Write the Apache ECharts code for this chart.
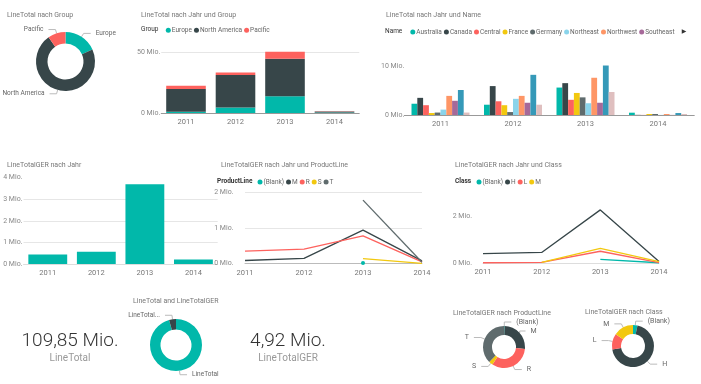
<!DOCTYPE html>
<html><head><meta charset="utf-8">
<script src="https://cdn.jsdelivr.net/npm/echarts@6/dist/echarts.min.js"></script>
<style>html,body{margin:0;padding:0;background:#fff}#c{width:701px;height:384px}</style>
</head><body><div id="c"></div>
<script>
// ---------- data ----------
const years = ['2011', '2012', '2013', '2014'];

const groupNames = ['Europe', 'North America', 'Pacific'];
const groupEurope = [1.0, 4.6, 13.8, 0.4];
const groupNorthAmerica = [19.0, 27.0, 31.2, 0.8];
const groupPacific = [2.5, 1.9, 5.8, 0.3];

const regionNames = ['Australia', 'Canada', 'Central', 'France', 'Germany', 'Northeast', 'Northwest', 'Southeast', 'Southwest', 'United Kingdom'];
const region2011 = [2.3, 3.5, 2.0, 0.4, 0.5, 1.1, 3.9, 2.9, 5.1, 0.5];
const region2012 = [2.1, 5.9, 2.8, 2.0, 0.6, 3.3, 3.9, 2.5, 8.2, 2.1];
const region2013 = [5.6, 6.5, 3.1, 4.5, 3.6, 2.4, 7.6, 2.5, 10.1, 4.7];
const region2014 = [0.47, 0.03, 0.02, 0.2, 0.2, 0.02, 0.2, 0.02, 0.4, 0.2];

const gerByYear = [0.44, 0.57, 3.70, 0.21];

const productLines = ['(Blank)', 'M', 'R', 'S', 'T'];
const plBlank = [null, null, 0.02, null];
const plM = [0.09, 0.15, 0.94, 0.08];
const plR = [0.35, 0.41, 0.78, 0.05];
const plS = [null, null, 0.14, 0.01];
const plT = [null, null, 1.78, 0.04];

const classes = ['(Blank)', 'H', 'L', 'M'];
const clBlank = [null, null, 0.15, 0.01];
const clH = [0.40, 0.45, 2.26, 0.06];
const clL = [0.01, 0.03, 0.50, 0.02];
const clM = [null, 0.03, 0.62, 0.06];

const kpiNames = ['LineTotal', 'LineTotalGER'];
const kpiValues = [109.85, 4.92];
const kpiLabels = ['109,85 Mio.', '4,92 Mio.'];

// ---------- styling ----------
const PAL = ['#01B8AA', '#374649', '#FD625E', '#F2C80F', '#5F6B6D', '#8AD4EB', '#FE9666', '#A66999', '#3599B8', '#DFBFBF'];
const FONT = 'Roboto';
const sum = a => a.reduce((s, v) => s + (v || 0), 0);
const fmtMio = v => v + ' Mio.';

function titleText(text, x, y) {
  return { type: 'text', x: x, y: y, style: { text: text, fill: '#777', font: '7px ' + FONT, verticalAlign: 'middle', align: 'left' } };
}
function headText(text, x, y, bold) {
  return { type: 'text', x: x, y: y, style: { text: text, fill: '#333', font: (bold ? 'bold ' : '') + '6.5px ' + FONT, verticalAlign: 'middle', align: 'left' } };
}
function catAxis(gi, boundary, lineColor) {
  return {
    type: 'category', gridIndex: gi, data: years, boundaryGap: boundary,
    axisTick: { show: false },
    axisLine: { show: true, lineStyle: { color: lineColor, width: 1 } },
    axisLabel: { fontSize: 7.5, color: '#777', margin: 5, fontFamily: FONT, interval: 0 },
    splitLine: { show: false }
  };
}
function valAxis(gi, max, interval, margin, split) {
  return {
    type: 'value', gridIndex: gi, min: 0, max: max, interval: interval,
    axisLine: { show: false }, axisTick: { show: false },
    axisLabel: { fontSize: 7, color: '#888', margin: margin, formatter: fmtMio, fontFamily: FONT, showMaxLabel: true },
    splitLine: split ? { show: true, showMinLine: false, showMaxLine: split === 'all', lineStyle: { color: '#e6e6e6', width: 1 } } : { show: false }
  };
}
const legendBase = {
  icon: 'circle', itemWidth: 5, itemHeight: 5, itemGap: 2, padding: 0, orient: 'horizontal',
  textStyle: { fontSize: 6.5, color: '#666', fontFamily: FONT, padding: [0, 0, 0, -4] },
  selectedMode: false
};
const pieLabel = { show: true, position: 'outside', fontSize: 6.5, color: '#666', fontFamily: FONT, overflow: 'none' };
const pieLine = { show: true, length: 4, length2: 7, lineStyle: { color: '#bbb', width: 1 } };

// ---------- series ----------
const series = [];
const groupArrays = [groupEurope, groupNorthAmerica, groupPacific];
const groupColors = [PAL[0], PAL[1], PAL[2]];
groupNames.forEach((n, i) => series.push({
  type: 'bar', name: n, xAxisIndex: 0, yAxisIndex: 0, stack: 'g', data: groupArrays[i],
  barCategoryGap: '20%', itemStyle: { color: groupColors[i] }, clip: false
}));

regionNames.forEach((n, i) => series.push({
  type: 'bar', name: n, xAxisIndex: 1, yAxisIndex: 1,
  data: [region2011[i], region2012[i], region2013[i], region2014[i]],
  barGap: '0%', barCategoryGap: '20%', itemStyle: { color: PAL[i] }, clip: false
}));

series.push({ type: 'bar', name: 'LineTotalGER', xAxisIndex: 2, yAxisIndex: 2, data: gerByYear, barCategoryGap: '20%', itemStyle: { color: PAL[0] }, clip: false });

const plArrays = [plBlank, plM, plR, plS, plT];
const plColors = [PAL[0], PAL[1], PAL[2], PAL[3], PAL[4]];
productLines.forEach((n, i) => series.push({
  type: 'line', name: n, xAxisIndex: 3, yAxisIndex: 3, data: plArrays[i],
  showSymbol: i === 0, symbol: 'circle', symbolSize: 4, clip: false,
  lineStyle: { color: plColors[i], width: 1.3 }, itemStyle: { color: plColors[i] }
}));

const clArrays = [clBlank, clH, clL, clM];
const clColors = [PAL[0], PAL[1], PAL[2], PAL[3]];
classes.forEach((n, i) => series.push({
  type: 'line', name: n, xAxisIndex: 4, yAxisIndex: 4, data: clArrays[i],
  showSymbol: false, clip: false,
  lineStyle: { color: clColors[i], width: 1.3 }, itemStyle: { color: clColors[i] }
}));

series.push({
  type: 'pie', center: [65.5, 61.5], radius: [18, 29.5], label: pieLabel, labelLine: pieLine,
  data: groupNames.map((n, i) => ({ name: n, value: sum(groupArrays[i]), itemStyle: { color: groupColors[i] } }))
});
series.push({
  type: 'pie', center: [176, 345], radius: [15.5, 26], label: pieLabel, labelLine: pieLine,
  data: kpiNames.map((n, i) => ({ name: n, value: kpiValues[i], itemStyle: { color: PAL[i] },
    label: i === 1 ? { width: 36, overflow: 'truncate', ellipsis: '...' } : {} }))
});
series.push({
  type: 'pie', center: [504, 347], radius: [12, 21], label: Object.assign({}, pieLabel, { fontSize: 7 }), labelLine: pieLine,
  data: productLines.map((n, i) => ({ name: n, value: sum(plArrays[i]), itemStyle: { color: plColors[i] } }))
});
series.push({
  type: 'pie', center: [633, 346], radius: [12, 21], label: Object.assign({}, pieLabel, { fontSize: 7 }), labelLine: pieLine,
  data: classes.map((n, i) => ({ name: n, value: sum(clArrays[i]), itemStyle: { color: clColors[i] } }))
});

const option = {
  backgroundColor: '#fff',
  animation: false,
  textStyle: { fontFamily: FONT },
  grid: [
    { left: 161.25, top: 52.7, width: 198, height: 60.3, containLabel: false, outerBoundsMode: 'none' },
    { left: 404.25, top: 66, width: 290, height: 49, containLabel: false, outerBoundsMode: 'none' },
    { left: 23.5, top: 177.7, width: 194.2, height: 86.3, containLabel: false, outerBoundsMode: 'none' },
    { left: 245, top: 192.3, width: 177, height: 71.4, containLabel: false, outerBoundsMode: 'none' },
    { left: 483, top: 216, width: 176, height: 47, containLabel: false, outerBoundsMode: 'none' }
  ],
  xAxis: [
    catAxis(0, true, '#999'),
    catAxis(1, true, '#999'),
    catAxis(2, true, '#ddd'),
    catAxis(3, false, '#bbb'),
    catAxis(4, false, '#ddd')
  ],
  yAxis: [
    valAxis(0, 50, 50, 1, 'all'),
    valAxis(1, 10, 10, 0, null),
    valAxis(2, 4, 1, 1, 'inner'),
    valAxis(3, 2, 1, 11.5, 'all'),
    valAxis(4, 2, 2, 11, null)
  ],
  legend: [
    Object.assign({}, legendBase, { left: 165.8, top: 26.8, data: groupNames }),
    Object.assign({}, legendBase, { left: 410.3, top: 28.5, data: regionNames.slice(0, 8) }),
    Object.assign({}, legendBase, { left: 257.5, top: 178.5, data: productLines.map((n, i) => ({ name: n, itemStyle: { color: plColors[i] } })) }),
    Object.assign({}, legendBase, { left: 476.5, top: 178.5, data: classes.map((n, i) => ({ name: n, itemStyle: { color: clColors[i] } })) })
  ],
  graphic: [
    titleText('LineTotal nach Group', 7, 15),
    titleText('LineTotal nach Jahr und Group', 141, 15),
    titleText('LineTotal nach Jahr und Name', 386, 15.5),
    titleText('LineTotalGER nach Jahr', 7, 165),
    titleText('LineTotalGER nach Jahr und ProductLine', 221, 165),
    titleText('LineTotalGER nach Jahr und Class', 455, 165),
    titleText('LineTotal and LineTotalGER', 133, 301),
    titleText('LineTotalGER nach ProductLine', 453, 313),
    titleText('LineTotalGER nach Class', 585, 312),
    headText('Group', 141, 29.3, false),
    headText('Name', 385, 31, false),
    headText('ProductLine', 217, 181, true),
    headText('Class', 455, 181, true),
    { type: 'text', x: 684, y: 31, style: { text: '▶', fill: '#333', font: '6px "DejaVu Sans"', align: 'center', verticalAlign: 'middle' } },
    { type: 'text', x: 70, y: 341, style: { text: kpiLabels[0], fill: '#333', font: '300 19px ' + FONT, align: 'center', verticalAlign: 'middle' } },
    { type: 'text', x: 70, y: 358, style: { text: kpiNames[0], fill: '#999', font: '10px ' + FONT, align: 'center', verticalAlign: 'middle' } },
    { type: 'text', x: 288, y: 341, style: { text: kpiLabels[1], fill: '#333', font: '300 19px ' + FONT, align: 'center', verticalAlign: 'middle' } },
    { type: 'text', x: 288, y: 358, style: { text: kpiNames[1], fill: '#999', font: '10px ' + FONT, align: 'center', verticalAlign: 'middle' } }
  ],
  series: series
};

const chart = echarts.init(document.getElementById('c'), null, { renderer: 'canvas' });
chart.setOption(option);
</script>
</body></html>
